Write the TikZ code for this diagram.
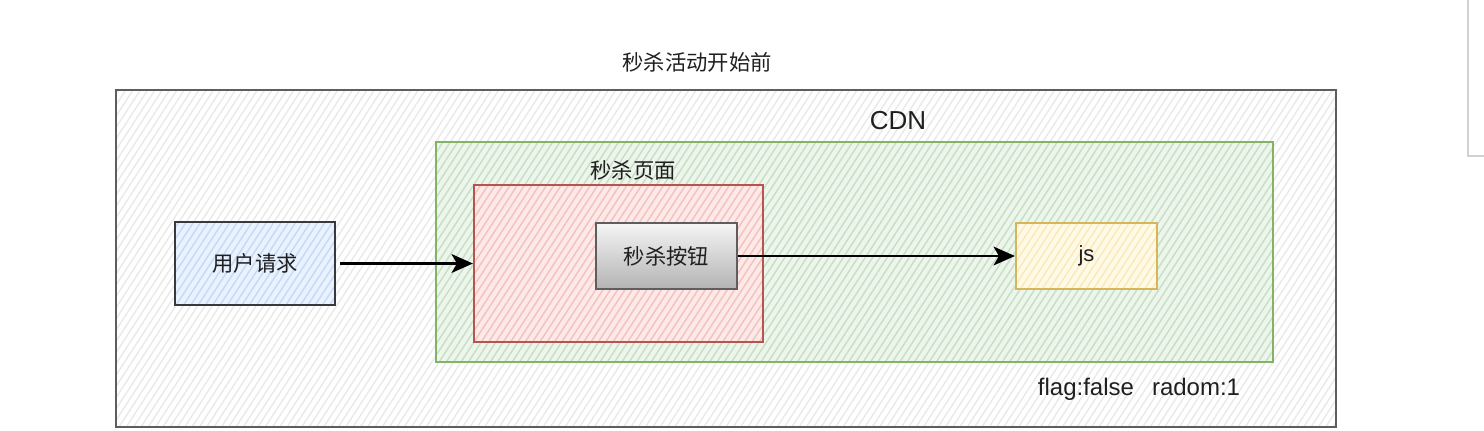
\documentclass[tikz,border=0pt]{standalone}
\usepackage{fontspec}
\setmainfont{Liberation Sans}
\newfontfamily\cjk{Noto Sans CJK SC}
\usetikzlibrary{patterns.meta,arrows.meta,shadows}
\definecolor{outerfill}{HTML}{FFFFFF}
\definecolor{outerhatch}{HTML}{EAEAEA}
\definecolor{outerline}{HTML}{5E5E5E}
\definecolor{grfill}{HTML}{EDF5EC}
\definecolor{grhatch}{HTML}{C6E0C3}
\definecolor{grline}{HTML}{82B366}
\definecolor{rdfill}{HTML}{FCEAE9}
\definecolor{rdhatch}{HTML}{F5C0BD}
\definecolor{rdline}{HTML}{B85450}
\definecolor{blfill}{HTML}{EAF2FD}
\definecolor{blhatch}{HTML}{C4DAF8}
\definecolor{blline}{HTML}{36393D}
\definecolor{ylfill}{HTML}{FFF9E8}
\definecolor{ylhatch}{HTML}{FCE9B8}
\definecolor{ylline}{HTML}{D6B656}
\tikzset{
  sketch/.style n args={3}{draw=#1, line width=1.6pt, inner sep=0pt,
    preaction={fill=#2},
    pattern={Lines[angle=57,distance=4.6pt,line width=1.1pt]}, pattern color=#3},
  lbl/.style={font=\cjk\fontsize{16}{18}\selectfont, text=black!88},
  conn/.style={line width=2.2pt, -{Stealth[length=16pt,width=14pt,inset=4pt]}},
}
\begin{document}
\begin{tikzpicture}[x=0.75pt,y=-0.75pt]
\useasboundingbox (0,0) rectangle (1484,430);
\draw[black!18, line width=0.8pt] (1468,0) -- (1468,156) -- (1484,156);
\node[lbl] (title) at (697,62) {秒杀活动开始前};
\node[sketch={outerline}{outerfill}{outerhatch}, minimum width=915pt, minimum height=252.75pt] (outer) at (726,258.5) {};
\node[font=\fontsize{19.5}{22}\selectfont, text=black!88] (cdnlabel) at (898,121) {CDN};
\node[sketch={grline}{grfill}{grhatch}, minimum width=627.75pt, minimum height=165pt] (cdn) at (854.5,252) {};
\node[lbl] (pagelabel) at (633,170) {秒杀页面};
\node[sketch={rdline}{rdfill}{rdhatch}, minimum width=216.75pt, minimum height=117.75pt] (page) at (618.5,263.5) {};
\node[draw=outerline, line width=1.6pt, top color=black!4, bottom color=black!30, drop shadow={opacity=0.25, shadow xshift=1pt, shadow yshift=-1pt},
  minimum width=105.75pt, minimum height=49.5pt, lbl] (btn) at (666.5,256) {秒杀按钮};
\node[sketch={blline}{blfill}{blhatch}, minimum width=120pt, minimum height=62.25pt] (user) at (255,263.5) {};
\node[lbl] at (user) {用户请求};
\node[sketch={ylline}{ylfill}{ylhatch}, minimum width=105.75pt, minimum height=49.5pt] (js) at (1086.5,256) {};
\node[font=\fontsize{16.5}{18}\selectfont, text=black!88] at (js) {js};
\node[font=\fontsize{18}{20}\selectfont, text=black!88] (flag) at (1139,389) {flag:false\hspace{0.75em}radom:1};
\draw[conn] ([xshift=3pt]user.east) -- (user.east -| page.west);
\draw[conn] (btn.east) -- (btn.east -| js.west);
\end{tikzpicture}
\end{document}
